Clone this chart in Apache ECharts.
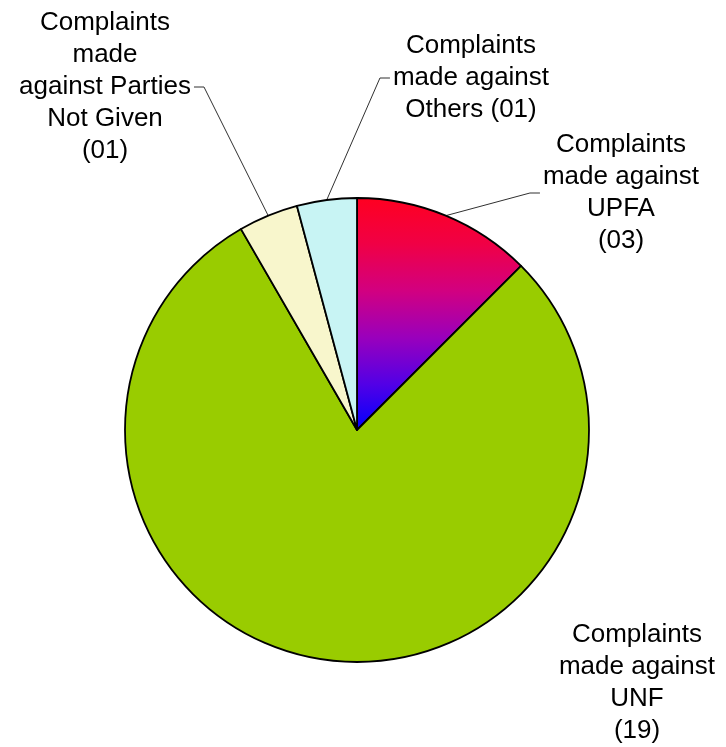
<!DOCTYPE html>
<html>
<head>
<meta charset="utf-8">
<script src="https://cdn.jsdelivr.net/npm/echarts@6/dist/echarts.min.js"></script>
<style>
  html, body { margin: 0; padding: 0; background: #fff; }
  #chart { width: 726px; height: 747px; }
</style>
</head>
<body>
<div id="chart"></div>
<script>
// ---- data ----
const categories = ['UPFA', 'UNF', 'Parties Not Given', 'Others'];
const values = [3, 19, 1, 1];
const labelTexts = [
  'Complaints\nmade against\nUPFA\n(03)',
  'Complaints\nmade against\nUNF\n(19)',
  'Complaints\nmade\nagainst Parties\nNot Given\n(01)',
  'Complaints\nmade against\nOthers (01)'
];

// ---- styling ----
const upfaGradient = new echarts.graphic.LinearGradient(0, 0, 0, 1, [
  { offset: 0, color: '#FF0020' },
  { offset: 0.2, color: '#F00045' },
  { offset: 0.4, color: '#D20080' },
  { offset: 0.6, color: '#9A00BC' },
  { offset: 0.8, color: '#5200E6' },
  { offset: 1, color: '#0000FF' }
]);
const sliceColors = [upfaGradient, '#99CC00', '#F8F6CC', '#C8F4F4'];
// label block centres (px) and which edge the leader line meets
const labelAnchors = [
  { x: 621, y: 193, side: 'left' },
  { x: 637, y: 683, side: null },
  { x: 105, y: 87, side: 'right' },
  { x: 471, y: 78, side: 'left' }
];

const chart = echarts.init(document.getElementById('chart'), null, { renderer: 'canvas' });

chart.setOption({
  backgroundColor: '#ffffff',
  animation: false,
  series: [{
    type: 'pie',
    center: [357, 430],
    radius: [0, 232],
    startAngle: 90,
    clockwise: true,
    avoidLabelOverlap: false,
    itemStyle: { borderColor: '#000000', borderWidth: 1.8 },
    label: {
      show: true,
      position: 'outside',
      fontFamily: '"Liberation Sans", Arial, sans-serif',
      fontSize: 26,
      lineHeight: 32,
      color: '#000000',
      align: 'center',
      formatter: function (p) { return labelTexts[p.dataIndex]; }
    },
    labelLine: {
      show: true,
      lineStyle: { color: '#303030', width: 1 }
    },
    labelLayout: function (p) {
      const a = labelAnchors[p.dataIndex];
      const out = { x: a.x, y: a.y, align: 'center', verticalAlign: 'middle' };
      if (a.side && p.labelLinePoints) {
        const w = p.labelRect.width;
        const start = p.labelLinePoints[0];
        const edgeX = a.side === 'left' ? a.x - w / 2 - 3 : a.x + w / 2 + 3;
        const dir = a.side === 'left' ? -1 : 1;
        out.labelLinePoints = [start, [edgeX + dir * 10, a.y], [edgeX, a.y]];
      }
      return out;
    },
    data: categories.map(function (c, i) {
      const item = { name: c, value: values[i], itemStyle: { color: sliceColors[i] } };
      if (i === 1) item.labelLine = { show: false };
      return item;
    })
  }]
});
</script>
</body>
</html>
